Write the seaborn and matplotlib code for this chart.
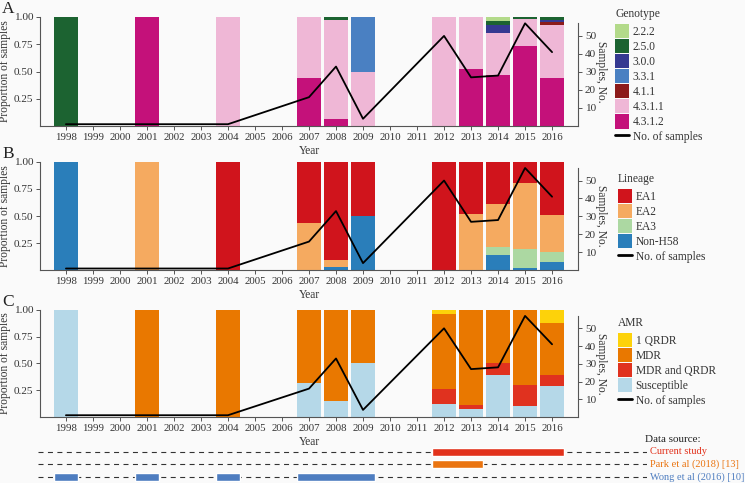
import numpy as np
import pandas as pd
import matplotlib
matplotlib.use("Agg")
import matplotlib.pyplot as plt
import seaborn as sns
from matplotlib.patches import Patch
from matplotlib.lines import Line2D

# ---------------- data ----------------
years = [1998, 2001, 2004, 2007, 2008, 2009, 2012, 2013, 2014, 2015, 2016]
tick_years = list(range(1998, 2017))
sample_counts = [1, 1, 1, 16, 33, 4, 50, 27, 28, 57, 41]

genotypes = ["2.2.2", "2.5.0", "3.0.0", "3.3.1", "4.1.1", "4.3.1.1", "4.3.1.2"]
geno_222 = [0, 0, 0, 0, 0, 0, 0, 0, 1, 0, 0]
geno_250 = [1, 0, 0, 0, 1, 0, 0, 0, 1, 1, 1]
geno_300 = [0, 0, 0, 0, 0, 0, 0, 0, 2, 0, 1]
geno_331 = [0, 0, 0, 0, 0, 2, 0, 0, 0, 0, 0]
geno_411 = [0, 0, 0, 0, 0, 0, 0, 0, 0, 0, 1]
geno_4311 = [0, 0, 1, 9, 30, 2, 50, 13, 11, 14, 20]
geno_4312 = [0, 1, 0, 7, 2, 0, 0, 14, 13, 42, 18]
geno_colors = ["#b3da8a", "#1c6331", "#353991", "#4a80c2", "#8c1a1a", "#efb7d6", "#c4117a"]

lineages = ["EA1", "EA2", "EA3", "Non-H58"]
lin_ea1 = [0, 0, 1, 9, 30, 2, 50, 13, 11, 11, 20]
lin_ea2 = [0, 1, 0, 7, 2, 0, 0, 14, 11, 35, 14]
lin_ea3 = [0, 0, 0, 0, 0, 0, 0, 0, 2, 10, 4]
lin_non = [1, 0, 0, 0, 1, 2, 0, 0, 4, 1, 3]
lin_colors = ["#d0141c", "#f5aa60", "#acd8a2", "#2a7eba"]

amr_classes = ["1 QRDR", "MDR", "MDR and QRDR", "Susceptible"]
amr_qrdr = [0, 0, 0, 0, 0, 0, 2, 0, 0, 0, 5]
amr_mdr = [0, 1, 1, 11, 28, 2, 35, 24, 14, 40, 20]
amr_mdrq = [0, 0, 0, 0, 0, 0, 7, 1, 3, 11, 4]
amr_susc = [1, 0, 0, 5, 5, 2, 6, 2, 11, 6, 12]
amr_colors = ["#fdd20a", "#e97800", "#e0321f", "#b5d8e8"]

sources = ["Current study", "Park et al (2018) [13]", "Wong et al (2016) [10]"]
source_start = [[2012], [2012], [1998, 2001, 2004, 2007]]
source_end = [[2016], [2013], [1998, 2001, 2004, 2009]]
source_colors = ["#e2321c", "#ea7410", "#4e7dc0"]

# ---------------- style ----------------
sns.set_theme(style="ticks")
BG = "#fafafa"
TXT = "#333333"
SPC = "#555555"
plt.rcParams["font.family"] = ["Liberation Serif", "DejaVu Serif"]
plt.rcParams.update({
    "font.size": 8,
    "axes.labelsize": 8.3,
    "xtick.labelsize": 7.8,
    "ytick.labelsize": 8.1,
    "axes.edgecolor": SPC,
    "axes.linewidth": 0.8,
    "xtick.color": SPC,
    "ytick.color": SPC,
    "xtick.labelcolor": TXT,
    "ytick.labelcolor": TXT,
    "axes.labelcolor": TXT,
    "text.color": TXT,
    "xtick.major.size": 3,
    "ytick.major.size": 3,
    "xtick.major.width": 0.7,
    "ytick.major.width": 0.7,
    "xtick.major.pad": 2,
    "ytick.major.pad": 2,
})

W, H = 745, 483
fig = plt.figure(figsize=(W / 100, H / 100), dpi=100, facecolor=BG)


def fx(px):
    return px / W


def fy(px):
    return 1 - px / H


def long_df(cats, arrays):
    rows = []
    tot = np.array(sample_counts, dtype=float)
    for c, arr in zip(cats, arrays):
        for y, v, t in zip(years, arr, tot):
            rows.append({"year": y, "cat": c, "prop": v / t})
    return pd.DataFrame(rows)


def panel(top_px, bot_px, cats, arrays, colors, title, letter, leg_x, leg_y):
    ax = fig.add_axes([fx(40), fy(bot_px), fx(578) - fx(40), (bot_px - top_px) / H])
    ax.set_facecolor(BG)
    df = long_df(cats, arrays)
    sns.histplot(data=df, x="year", weights="prop", hue="cat", hue_order=cats,
                 palette=dict(zip(cats, colors)), multiple="stack", discrete=True,
                 shrink=0.9, alpha=1, linewidth=0, edgecolor="none", legend=False, ax=ax)
    ax.set_xlim(1997.04, 2016.96)
    ax.set_ylim(0, 1)
    ax.set_xticks(tick_years)
    ax.set_xticklabels([str(y) for y in tick_years])
    ax.set_yticks([0.25, 0.5, 0.75, 1.0])
    ax.set_yticklabels(["0.25", "0.50", "0.75", "1.00"])
    ax.set_xlabel("Year", labelpad=2)
    ax.set_ylabel("Proportion of samples")
    ax.yaxis.set_label_coords(-0.053, 0.5)
    for s in ["top", "right"]:
        ax.spines[s].set_visible(False)

    ax2 = ax.twinx()
    sns.lineplot(x=years, y=sample_counts, ax=ax2, color="black", lw=1.3)
    ax2.set_ylim(0, 60.5)
    ax2.set_yticks([10, 20, 30, 40, 50])
    for s in ["top", "left", "bottom"]:
        ax2.spines[s].set_visible(False)
    ax2.spines["right"].set_bounds(0, 57)
    ax2.set_ylabel("Samples, No.", rotation=270, labelpad=8)

    handles = [Patch(facecolor=c, edgecolor="none") for c in colors]
    handles.append(Line2D([0], [0], color="black", lw=2))
    labels = list(cats) + ["No. of samples"]
    leg = ax2.legend(handles, labels, title=title, loc="upper left",
                     bbox_to_anchor=(fx(leg_x), fy(leg_y)), bbox_transform=fig.transFigure,
                     frameon=False, fontsize=8.3, title_fontsize=8.3, handlelength=1.22,
                     handleheight=1.52, labelspacing=0.07, handletextpad=0.3,
                     borderpad=0, borderaxespad=0, alignment="left")
    leg._legend_box.sep = 3
    fig.text(fx(2), fy(top_px - 8), letter, fontsize=12.5, ha="left", va="center", color="#222222")
    return ax


panel(17, 126, genotypes, [geno_222, geno_250, geno_300, geno_331, geno_411, geno_4311, geno_4312],
      geno_colors, "Genotype", "A", 615, 8)
panel(161.7, 270.3, lineages, [lin_ea1, lin_ea2, lin_ea3, lin_non],
      lin_colors, "Lineage", "B", 618, 173)
panel(309.7, 417, amr_classes, [amr_qrdr, amr_mdr, amr_mdrq, amr_susc],
      amr_colors, "AMR", "C", 618, 317)

# ---------------- data source strip ----------------
ax4 = fig.add_axes([fx(38), 0, fx(647) - fx(38), 39 / H])
ax4.set_facecolor(BG)
ax4.patch.set_alpha(0)
ax4.set_xlim(1996.96, 2019.52)
ax4.set_ylim(2.47, -0.61)
for i, (name, st, en, col) in enumerate(zip(sources, source_start, source_end, source_colors)):
    ax4.axhline(i, color="#333333", lw=0.8, ls=(0, (4.5, 4.0)), zorder=1)
    for a, b in zip(st, en):
        ax4.barh(i, (b + 0.45) - (a - 0.45), left=a - 0.45, height=0.62, color=col, zorder=2)
    ax4.text(1.005, i, name, transform=ax4.get_yaxis_transform(), color=col,
             fontsize=7.5, ha="left", va="center", clip_on=False)
ax4.axis("off")
fig.text(fx(645), fy(440), "Data source:", fontsize=8, ha="left", va="center", color="#222222")

fig.savefig("out.png", dpi=100, facecolor=BG)
